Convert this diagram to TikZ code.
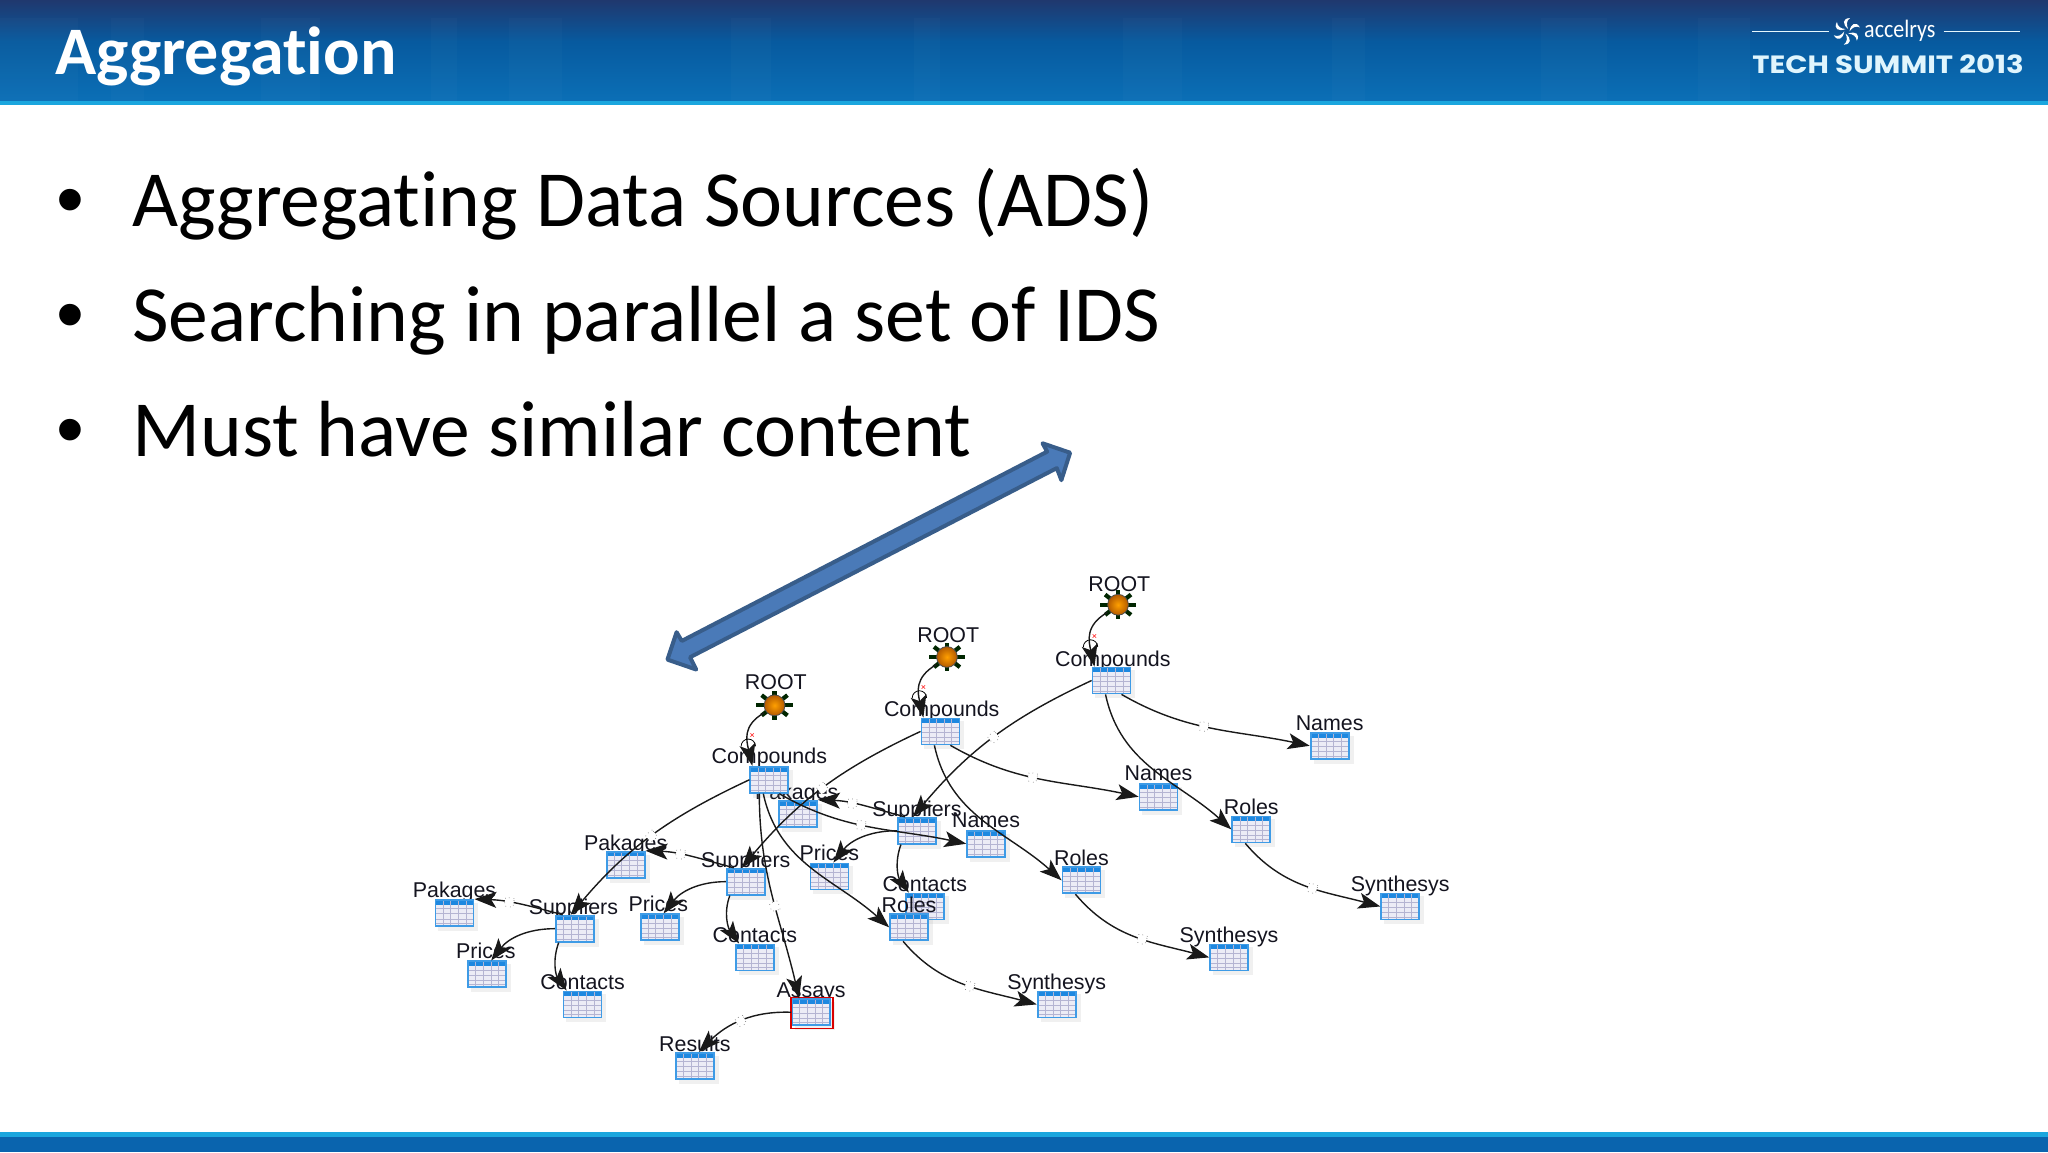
\documentclass[tikz,border=0pt]{standalone}
\usepackage{fontspec}
\setmainfont{Carlito}[Ligatures=NoCommon]
\newfontfamily\lblfont{Liberation Sans}
\newfontfamily\logofont{Poppins}
\usetikzlibrary{arrows.meta,shadings,calc}
\definecolor{tblblue}{HTML}{3E9BE6}
\definecolor{tblhead}{HTML}{1E88E0}
\definecolor{tblgrid}{HTML}{B4B4D2}
\definecolor{tblcell}{HTML}{ECECF6}
\definecolor{navy}{HTML}{20386E}
\definecolor{midblue}{HTML}{075A9F}
\definecolor{lowblue}{HTML}{0B6FB6}
\definecolor{footblue}{HTML}{0A64AE}
\definecolor{stripe}{HTML}{1BA6DE}
\definecolor{arrowfill}{HTML}{4A7AB8}
\definecolor{arrowline}{HTML}{385D8A}
\definecolor{lbl}{HTML}{14141F}
\tikzset{
  x=0.653061pt,y=-0.653061pt,
  tbl/.style={rectangle,minimum width=19pt,minimum height=13pt,inner sep=0pt,draw=tblblue,line width=.9pt,fill=tblcell,
    path picture={
      \fill[tblhead] (path picture bounding box.north west) rectangle ([yshift=-2.4pt]path picture bounding box.north east);
      \foreach \f in {.33,.53,.73,.9}{\draw[tblgrid,line width=.35pt] ($(path picture bounding box.north west)!\f!(path picture bounding box.south west)$) -- ($(path picture bounding box.north east)!\f!(path picture bounding box.south east)$);}
      \foreach \f in {.2,.4,.6,.8}{\draw[tblgrid,line width=.35pt] ($(path picture bounding box.north west)!\f!(path picture bounding box.north east)$) -- ($(path picture bounding box.south west)!\f!(path picture bounding box.south east)$);}
    }},
  tblshadow/.style={rectangle,minimum width=20pt,minimum height=14pt,inner sep=0pt,fill=black!40,opacity=.14},
  lab/.style={font=\lblfont\fontsize{10.7}{12}\selectfont,text=lbl,inner sep=0pt,text height=7.7pt,text depth=0pt},
  edgeline/.style={draw=black!90,line width=.7pt,-{Stealth[length=11pt,width=8pt,inset=2.6pt]}},
  mid/.style={rectangle,minimum size=4.4pt,inner sep=0pt,fill=white,draw=black!50,line width=.35pt,dotted},
  sunball/.style={circle,minimum size=10.4pt,inner sep=0pt,inner color=orange!75!yellow,outer color=orange!70!black,draw=black!70,line width=.4pt},
  headtext/.style={font=\fontsize{34}{36}\selectfont\bfseries,text=white,inner sep=0pt,anchor=base west},
  bodytext/.style={font=\fontsize{39.8}{42}\selectfont,text=black,inner sep=0pt,anchor=base west},
  bullettext/.style={font=\lblfont\fontsize{39.8}{42}\selectfont,text=black,inner sep=0pt,anchor=base west},
  band/.style={fill=white,opacity=.02}
}
\begin{document}
\begin{tikzpicture}
\useasboundingbox (0,0) rectangle (1568,882);
\fill[white] (0,0) rectangle (1568,882);
% header
\shade[top color=navy,bottom color=midblue] (0,0) rectangle (1568,32);
\shade[top color=midblue,bottom color=lowblue] (0,32) rectangle (1568,77);
\foreach \a/\b in {0/60,85/110,200/245,330/350,390/430,560/590,700/720,860/905,1020/1045,1180/1230,1300/1340}{\fill[band] (\a,14) rectangle (\b,77);}
\fill[stripe] (0,77) rectangle (1568,80.5);
% footer
\fill[footblue] (0,868) rectangle (1568,882);
\fill[stripe] (0,867) rectangle (1568,870.5);
% title and bullets
\node[headtext] (title) at (42,57) {Aggregation};
\node[bullettext] (b1) at (43,173.5) {•};
\node[bullettext] (b2) at (43,261.5) {•};
\node[bullettext] (b3) at (43,349.5) {•};
\node[bodytext] (t1) at (101,173.5) {Aggregating Data Sources (ADS)};
\node[bodytext] (t2) at (101,261.5) {Searching in parallel a set of IDS};
\node[bodytext] (t3) at (101,349.5) {Must have similar content};
% logo
\coordinate (ll1) at (1341.6,24.3); \coordinate (ll2) at (1400,24.3);
\coordinate (lr1) at (1488,24.3); \coordinate (lr2) at (1546.7,24.3);
\draw[white!90!cyan,line width=.7pt] (ll1) -- (ll2);
\draw[white!90!cyan,line width=.7pt] (lr1) -- (lr2);
\foreach \r in {0,60,...,300}{
  \fill[white,rotate around={\r:(1414,24)}] (1416,24) .. controls (1417,18) and (1421,16) .. (1424,21) .. controls (1421,19.5) and (1418,21) .. (1416,24) -- cycle;
}
\node[font=\fontsize{12.5}{14}\selectfont,text=white,inner sep=0pt,anchor=base west,xscale=.88] (acc) at (1427,29) {accelrys};
\node[font=\logofont\bfseries\fontsize{12.5}{14}\selectfont,text=white!88!cyan,inner sep=0pt,xscale=1.168] (ts) at (1445.5,49.5) {TECH SUMMIT 2013};
% big arrow
\filldraw[fill=arrowfill,draw=arrowline,line width=2pt,line join=round]
 (819.3,346.6) -- (798.2,339.4) -- (801.7,345.8) -- (522,490.7) -- (518,484) -- (511,505) -- (533,512.6) -- (528.3,503.2) -- (809.1,358.4) -- (812.6,367.6) -- cycle;
% labels and tables, in stacking order
\foreach \id/\x/\y/\t/\lx/\ly in {
 PkA/611/623/Pakages/610/606, SuA/702/636/Suppliers/702/619, PrA/635/671/Prices/635/653, CoA/708/694/Contacts/708/677,
 NaA/755/646/Names/755/628, RoA/696/710/Roles/696/693, SyA/809/769/Synthesys/809/752,
 PkB/479/662/Pakages/479/645, SuB/571/675/Suppliers/571/658, PrB/505/710/Prices/504/692, CoB/578/733/Contacts/578/716,
 NaB/887/610/Names/887/592, RoB/828/674/Roles/828/657, SyB/941/733/Synthesys/941/716,
 PkC/348/699/Pakages/348/681, SuC/440/711/Suppliers/439/694, PrC/373/746/Prices/372/728, CoC/446/769/Contacts/446/752,
 NaC/1018/571/Names/1018/553, RoC/958/635/Roles/958/618, SyC/1072/694/Synthesys/1072/677,
 As/621/775/Assays/621/758, Re/532/816/Results/532/799,
 CA/589/597/Compounds/589/579, CB/720/560/Compounds/721/543, CC/851/521/Compounds/852/504}{
  \node[tblshadow] (\id s) at (\x+3,\y+3) {};
  \node[lab] (\id l) at (\lx,\ly) {\t};
  \node[tbl] (\id) at (\x,\y) {};
}
\node[rectangle,draw=red!85!black,line width=.8pt,minimum width=20.9pt,minimum height=15.4pt,inner sep=0pt] (asbox) at (621.7,775.6) {};
% roots
\foreach \id/\x/\y/\lx/\ly in {RA/593/540/594/522, RB/725/503/726/486, RC/856/463/857/447}{
  \foreach \r in {0,45,...,315}{\draw[black!85!green,line width=2.1pt] (\x,\y) -- +({14*cos(\r)},{11*sin(\r)});}
  \node[sunball] (\id) at (\x,\y) {};
  \node[lab] (\id l) at (\lx,\ly) {ROOT};
}
% connectors
\foreach \s/\c in {RA/CA,RB/CB,RC/CC}{
  \draw[edgeline] ([xshift=-1.5pt]\s.south west) to[out=-150,in=103,looseness=1.2] ([xshift=-8.5pt]\c.north);
  \draw[black,line width=.4pt] ([xshift=-14.1pt,yshift=9.8pt]\c.north) arc[start angle=180,end angle=0,radius=3.6pt];
  \node[text=red,font=\lblfont\fontsize{4.5}{5}\selectfont,inner sep=0pt] (\c x) at ([xshift=-8.5pt,yshift=15pt]\c.north) {×};
}
\foreach \c/\su/\na/\ro/\sy in {CA/SuC/NaA/RoA/SyA, CB/SuB/NaB/RoB/SyB, CC/SuA/NaC/RoC/SyC}{
  \draw[edgeline] (\c.west) to[out=205,in=50] node[mid,sloped,pos=.5] {} ([xshift=-2pt]\su.north);
  \draw[edgeline] ([xshift=5pt]\c.south) to[out=-30,in=168] node[mid,sloped,pos=.45] {} (\na.west);
  \draw[edgeline] ([xshift=-3pt]\c.south) to[out=-78,in=138] (\ro.west);
  \draw[edgeline] ([xshift=-3pt]\ro.south) to[out=-50,in=165] node[mid,sloped,pos=.55] {} (\sy.west);
}
\foreach \su/\pk/\pr/\co in {SuA/PkA/PrA/CoA, SuB/PkB/PrB/CoB, SuC/PkC/PrC/CoC}{
  \draw[edgeline] ([xshift=-6pt]\su.north) to[out=165,in=-2] node[mid,sloped,pos=.62] {} (\pk.north east);
  \draw[edgeline] (\su.west) to[out=180,in=52] ([xshift=2pt]\pr.north);
  \draw[edgeline] ([xshift=-8pt]\su.south) to[out=-110,in=125] ([xshift=2pt]\co.north west);
}
\draw[edgeline] ([xshift=-5pt]CA.south) to[out=-90,in=103] node[mid,sloped,pos=.55] {} ([xshift=-6pt]As.north);
\draw[edgeline] (As.west) to[out=178,in=45] node[mid,sloped,pos=.5] {} ([xshift=2pt]Re.north);
\end{tikzpicture}
\end{document}
